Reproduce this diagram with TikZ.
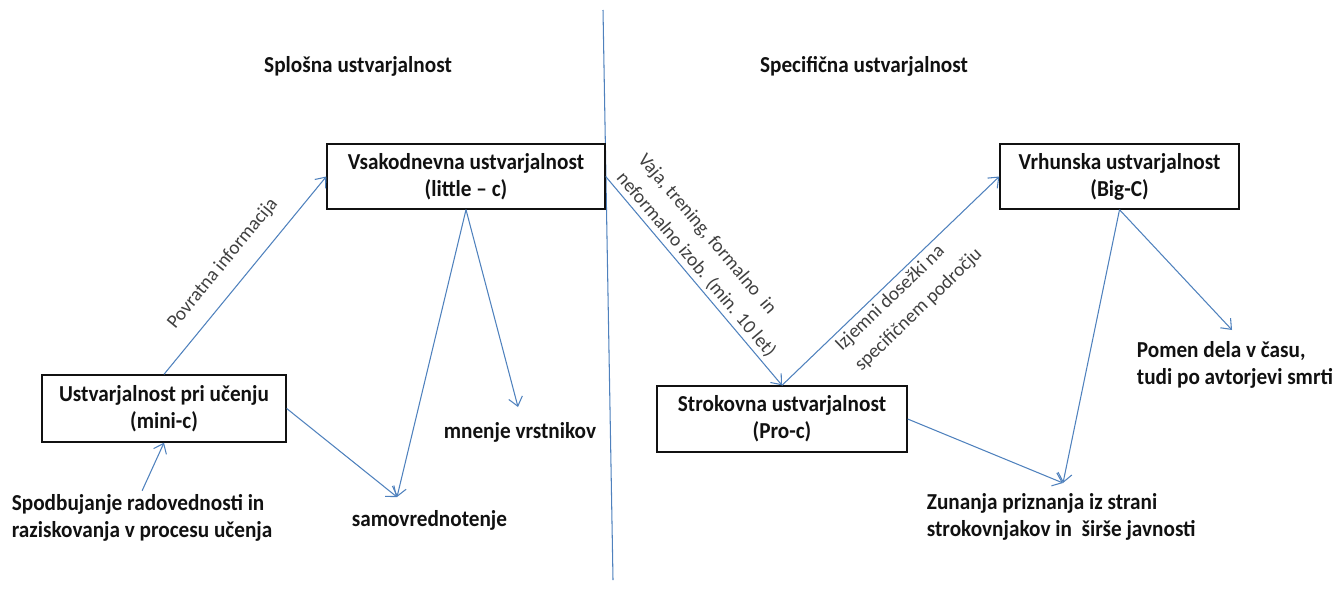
\documentclass[tikz,border=0pt]{standalone}
\usepackage{fontspec}
\setmainfont{Carlito}
\newfontfamily\narrowfont[FakeStretch=0.93]{Carlito}
\usepackage{xcolor}
\definecolor{ArrowBlue}{HTML}{4F81BD}
\definecolor{Charcoal}{HTML}{111111}
\definecolor{TagGrey}{HTML}{404040}
\usepackage{tikz}
\usetikzlibrary{arrows.meta, positioning, calc}
\tikzstyle{box} = [rectangle, draw=Charcoal, fill=white, text=Charcoal, line width=0.8pt, align=center, inner sep=0pt, font=\narrowfont\bfseries\fontsize{13}{15.3}\selectfont]
\tikzstyle{note} = [text=Charcoal, align=left, inner sep=2pt, font=\narrowfont\bfseries\fontsize{13}{15.3}\selectfont]
\tikzstyle{tag} = [sloped, text=TagGrey, inner sep=1pt, font=\fontsize{11}{16}\selectfont]
\tikzstyle{arrow} = [->, >={Straight Barb[length=5pt,width=8pt]}, color=ArrowBlue, line width=0.6pt]

\begin{document}
\begin{tikzpicture}[x=0.02cm, y=-0.02cm]
    \useasboundingbox (0,0) rectangle (1344,595);
    % divider between the two halves
    \coordinate (divTop) at (603,10);
    \coordinate (divBot) at (613,580);
    \draw [ArrowBlue, line width=0.6pt] (divTop) -- (divBot);

    % headings
    \node [note] (general) at (358,66) {Splošna ustvarjalnost};
    \node [note] (specific) at (864,66) {Specifična ustvarjalnost};

    % boxes
    \node [box, minimum width=4.88cm, minimum height=1.34cm] (mini) at (164,408.5) {Ustvarjalnost pri učenju\\(mini-c)};
    \node [box, minimum width=5.56cm, minimum height=1.3cm] (little) at (466,176.5) {Vsakodnevna ustvarjalnost\\(little – c)};
    \node [box, minimum width=5cm, minimum height=1.32cm] (pro) at (782,419) {Strokovna ustvarjalnost\\(Pro-c)};
    \node [box, minimum width=4.78cm, minimum height=1.3cm] (big) at (1119.5,176.5) {Vrhunska ustvarjalnost\\(Big-C)};

    % free texts
    \node [note, anchor=west] (encourage) at (8,518) {Spodbujanje radovednosti in\\raziskovanja v procesu učenja};
    \node [note, anchor=west] (selfeval) at (348,520) {samovrednotenje};
    \node [note, anchor=west] (peers) at (440,432) {mnenje vrstnikov};
    \node [note, anchor=west] (meaning) at (1133,365) {Pomen dela v času,\\tudi po avtorjevi smrti};
    \node [note, anchor=west] (recognition) at (923,517) {Zunanja priznanja iz strani\\strokovnjakov in \ širše javnosti};

    % arrow tips above the free texts
    \coordinate (selfTip) at (397,497);
    \coordinate (peerTip) at (518,407);
    \coordinate (meanTip) at (1232,330);
    \coordinate (recogTip) at (1063,483);

    % left half
    \draw [arrow] (mini.north) -- node [tag, above=8pt, pos=0.48] {Povratna informacija} (little.west);
    \draw [arrow] (encourage.north) -- (mini.south);
    \draw [arrow] (mini.east) -- (selfTip);
    \draw [arrow] (little.south) -- (selfTip);
    \draw [arrow] (little.south) -- (peerTip);

    % right half
    \draw [arrow] (little.east) -- node [tag, above=1pt, pos=0.46, align=left] {Vaja, trening, formalno \ in\\neformalno izob. (min. 10 let)} (pro.north);
    \draw [arrow] (pro.north) -- node [tag, below=1pt, pos=0.5, align=left] {Izjemni dosežki na\\specifičnem področju} (big.west);
    \draw [arrow] (big.south) -- (meanTip);
    \draw [arrow] (big.south) -- (recogTip);
    \draw [arrow] (pro.east) -- (recogTip);
\end{tikzpicture}
\end{document}
